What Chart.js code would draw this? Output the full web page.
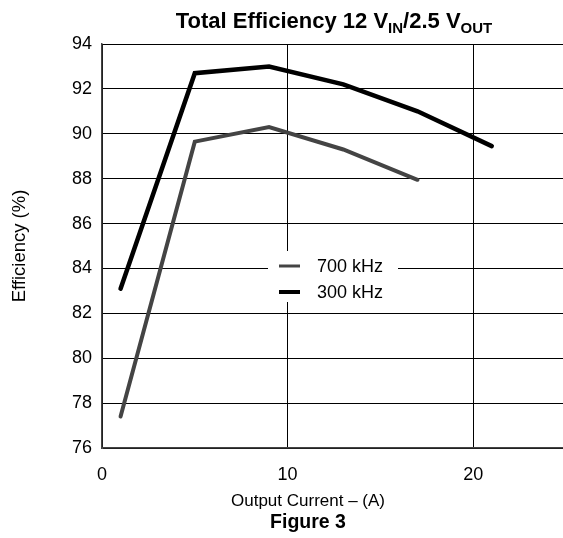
<!DOCTYPE html>
<html>
<head>
<meta charset="utf-8">
<script src="https://cdn.jsdelivr.net/npm/chart.js@4.4.1/dist/chart.umd.min.js"></script>
<style>
  html, body { margin: 0; padding: 0; background: #fff; overflow: hidden; }
  #wrap { width: 570px; height: 538px; }
</style>
</head>
<body>
<div id="wrap"><canvas id="grafico"></canvas></div>
<script>
const FONT = '"Liberation Sans", Arial, Helvetica, sans-serif'

// dados
const correnteA = [1, 5, 9, 13, 17, 21]
const efic300k = [83.1, 92.7, 93.0, 92.2, 91.0, 89.45]
const efic700k = [77.4, 89.65, 90.3, 89.3, 87.95]
const ticksY = [76, 78, 80, 82, 84, 86, 88, 90, 92, 94]
const ticksX = [0, 10, 20]
const rotulos = ['700 kHz', '300 kHz']

Chart.defaults.font.family = FONT
Chart.defaults.font.size = 18
Chart.defaults.color = '#000'

const pares = (xs, ys) => ys.map((y, i) => ({ x: xs[i], y }))

// titulo com subscritos, titulo do eixo x e "Figure 3"
const textos = {
  id: 'textos',
  afterDraw(chart) {
    const c = chart.ctx
    const a = chart.chartArea
    const cx = (a.left + a.right) / 2
    const partes = [
      ['Total Efficiency 12 V', 22, 0],
      ['IN', 15, 5],
      ['/2.5 V', 22, 0],
      ['OUT', 15, 5]
    ]
    c.save()
    c.fillStyle = '#000'
    c.textBaseline = 'alphabetic'
    let total = 0
    partes.forEach(p => { c.font = 'bold ' + p[1] + 'px ' + FONT; total += c.measureText(p[0]).width })
    let x = cx - total / 2
    partes.forEach(p => {
      c.font = 'bold ' + p[1] + 'px ' + FONT
      c.textAlign = 'left'
      c.fillText(p[0], x, 28 + p[2])
      x += c.measureText(p[0]).width
    })
    c.textAlign = 'center'
    c.font = '17px ' + FONT
    c.fillText('Output Current – (A)', 308, 506)
    c.font = 'bold 19.5px ' + FONT
    c.fillText('Figure 3', 308, 528)
    c.restore()
  }
}

// legenda dentro da area do grafico
const legenda = {
  id: 'legenda',
  afterDatasetsDraw(chart) {
    const c = chart.ctx
    c.save()
    c.fillStyle = '#fff'
    c.fillRect(268, 251, 130, 51)
    chart.data.datasets.forEach((ds, i) => {
      const y = 266 + i * 26
      c.strokeStyle = ds.borderColor
      c.lineWidth = i === 0 ? 3 : 4
      c.beginPath()
      c.moveTo(279, y)
      c.lineTo(300, y)
      c.stroke()
      c.fillStyle = '#000'
      c.font = '18px ' + FONT
      c.textAlign = 'left'
      c.textBaseline = 'middle'
      c.fillText(ds.label, 317, y + 1)
    })
    c.restore()
  }
}

const data = {
  datasets: [
    {
      label: rotulos[0],
      data: pares(correnteA, efic700k),
      borderColor: '#444',
      borderWidth: 4,
      pointRadius: 0,
      borderCapStyle: 'round'
    },
    {
      label: rotulos[1],
      data: pares(correnteA, efic300k),
      borderColor: '#000',
      borderWidth: 4.5,
      pointRadius: 0,
      borderCapStyle: 'round'
    }
  ]
}

const config = {
  type: 'line',
  data,
  options: {
    responsive: true,
    maintainAspectRatio: false,
    animation: false,
    layout: { padding: { top: 44, right: 4, left: 0, bottom: 0 } },
    plugins: {
      legend: { display: false },
      title: { display: false },
      tooltip: { enabled: false }
    },
    scales: {
      x: {
        type: 'linear',
        min: 0,
        max: 25,
        afterFit: s => { s.height = 90 },
        afterBuildTicks: s => { s.ticks = ticksX.map(v => ({ value: v })) },
        ticks: { padding: 16 },
        grid: { color: '#000', lineWidth: 1, drawTicks: false },
        border: { color: '#444', width: 1.5 }
      },
      y: {
        min: 76,
        max: 94,
        afterFit: s => { s.width = 102 },
        afterBuildTicks: s => { s.ticks = ticksY.map(v => ({ value: v })) },
        ticks: { padding: 10 },
        grid: { color: '#000', lineWidth: 1, drawTicks: false },
        border: { color: '#444', width: 1.5 },
        title: {
          display: true,
          text: 'Efficiency (%)',
          font: { size: 18.5 },
          padding: { top: 9, bottom: 0 }
        }
      }
    }
  },
  plugins: [legenda, textos]
}

const grafico = new Chart(document.getElementById('grafico'), config)
</script>
</body>
</html>
